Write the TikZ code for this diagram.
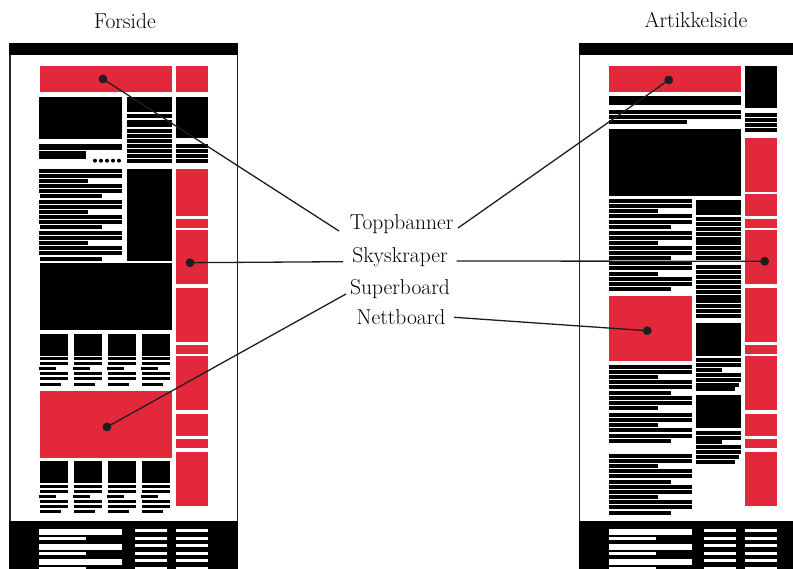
\documentclass[tikz,border=0pt]{standalone}
\usepackage{tikz}
\definecolor{adred}{RGB}{227,40,60}
\definecolor{ink}{RGB}{30,30,30}
\tikzset{
  blk/.style={fill=black},
  red/.style={fill=adred},
  wht/.style={fill=white},
  frame/.style={fill=white,draw=black!85,line width=1.2pt},
  conn/.style={draw=ink,line width=1.3pt},
  dot/.style={circle,fill=ink,inner sep=0pt,minimum size=8.5pt},
  lab/.style={inner sep=0pt,anchor=base,font=\fontsize{21.5}{25}\selectfont},
}
\begin{document}
\begin{tikzpicture}[x=1pt,y=-1pt]
\useasboundingbox (0,0) rectangle (793,569);
\clip (0,0) rectangle (793,569);

% ================= LEFT PAGE (Forside) =================
\node[lab] (tForside) at (125,28.3) {Forside};
\draw[frame] (10,43.5) rectangle (237.5,575);
\fill[blk] (9.4,43.3) rectangle (238.1,55);
% top ads
\fill[red] (40,66) rectangle (172,92);
\fill[red] (176,66) rectangle (208,92);
% top blocks
\fill[blk] (39,97) rectangle (122,139);
\fill[blk] (127,97) rectangle (172,112);
\fill[blk] (127,120) rectangle (172,127.3);
\foreach \y in {114,129,134,139,144,149,154,159} \fill[blk] (127,\y) rectangle (172,\y+3.8);
\fill[blk] (176,97) rectangle (208,138.5);
\foreach \y in {144,149,154,159} \fill[blk] (176,\y) rectangle (208,\y+3.8);
\fill[blk] (39,144) rectangle (122,150);
\fill[blk] (39,151) rectangle (86,158.7);
\foreach \x in {95,101,107,113,119} \fill[blk] (\x,160.7) circle (2);
% text block
\foreach \y in {169,174,184,189,200,205,215,220,231,236,246,251} \fill[blk] (39,\y) rectangle (122,\y+3.7);
\foreach \y in {179,210,241} \fill[blk] (39,\y) rectangle (88,\y+3.7);
\foreach \y in {194,225,257} \fill[blk] (40,\y) rectangle (102,\y+3.7);
\fill[blk] (127,169) rectangle (172,260.7);
% big black
\fill[blk] (40,262.7) rectangle (172,330);
% skyscraper column
\foreach \a/\b in {169/216,219.3/227.7,230/284,288/342,345/353.7,356/410,414/436,439/448,452/506}
  \fill[red] (176,\a) rectangle (208,\b);
% small boxes rows
\foreach \x in {40,74,108,142} {
  \fill[blk] (\x,334) rectangle (\x+28,356);
  \foreach \y in {357,362,372,377} \fill[blk] (\x,\y) rectangle (\x+28,\y+3.3);
  \fill[blk] (\x-1,367) rectangle (\x+16,370.3);
  \fill[blk] (\x,383) rectangle (\x+21,386.3);
  \fill[blk] (\x,461) rectangle (\x+28,483);
  \foreach \y in {485,490,500,505} \fill[blk] (\x,\y) rectangle (\x+28,\y+3.3);
  \fill[blk] (\x-1,495) rectangle (\x+16,498.3);
  \fill[blk] (\x,510) rectangle (\x+21,513.3);
}
% superboard
\fill[red] (40,391) rectangle (172,457.7);
% footer
\fill[blk] (9.4,521) rectangle (238.1,575);
\foreach \y in {529,544,559} \fill[wht] (39,\y) rectangle (122,\y+5.6);
\foreach \y in {537,552,567} \fill[wht] (39,\y) rectangle (86,\y+3);
\foreach \y in {529,537,544,552,559,567} {
  \fill[wht] (135,\y) rectangle (167,\y+3);
  \fill[wht] (176,\y) rectangle (208,\y+3);
}

% ================= RIGHT PAGE (Artikkelside) =================
\node[lab] (tArtikkel) at (696,28) {Artikkelside};
\draw[frame] (579.3,43.5) rectangle (807,575);
\fill[blk] (578.7,43.3) rectangle (810,55);
\fill[red] (609,66) rectangle (741,92);
\fill[blk] (609,95.7) rectangle (741,105);
\fill[blk] (609,110) rectangle (741,114);
\fill[blk] (609,115) rectangle (741,119);
\fill[blk] (609,120) rectangle (687,124);
\fill[blk] (609,129) rectangle (741,195.7);
% right column
\fill[blk] (745,66) rectangle (777,107.7);
\foreach \y in {112.7,117.7,122.7,127.7} \fill[blk] (745,\y) rectangle (777,\y+4);
\foreach \a/\b in {137.7/192,194/216,219.3/227.7,230/284,288/342,345/353.7,356/410,414/436,439/448,452/506}
  \fill[red] (745,\a) rectangle (777,\b);
% article text
\foreach \y in {199,204,214,220,231,236,246,251,261,266,277,282,365,370,380,385,396,401,413,418,428,434,454,459,469,474,485,490,500,505}
  \fill[blk] (609,\y) rectangle (692,\y+3.9);
\foreach \y in {209,241,272,375,406,423,464,495} \fill[blk] (609,\y) rectangle (658,\y+3.9);
\foreach \y in {225,256,287,391,439,480,511} \fill[blk] (609,\y) rectangle (671,\y+3.9);
% nettboard
\fill[red] (609,296) rectangle (692,360.7);
% middle column
\fill[blk] (696,200) rectangle (741,215);
\foreach \y in {217,222,227,232,246,251,256,265,270,275,280,285,290,304,309,314}
  \fill[blk] (696,\y) rectangle (741,\y+4);
\fill[blk] (696,237) rectangle (741,244.7);
\fill[blk] (696,295) rectangle (741,302.7);
\fill[blk] (696,323) rectangle (741,356);
\foreach \y in {358,363,373,378,431,436,445,450} \fill[blk] (696,\y) rectangle (741,\y+4);
\foreach \y in {368,440} \fill[blk] (696,\y) rectangle (722,\y+4);
\foreach \y in {383,455} \fill[blk] (696,\y) rectangle (739,\y+4);
\foreach \y in {387,460} \fill[blk] (696,\y) rectangle (735,\y+4);
\fill[blk] (696,395) rectangle (741,428);
% footer
\fill[blk] (578.7,521) rectangle (810,575);
\foreach \y in {529,544,559} \fill[wht] (609,\y) rectangle (692,\y+5.6);
\foreach \y in {537,552,567} \fill[wht] (609,\y) rectangle (656,\y+3);
\foreach \y in {529,537,544,552,559,567} {
  \fill[wht] (704,\y) rectangle (736,\y+3);
  \fill[wht] (745,\y) rectangle (777,\y+3);
}

% ================= LABELS AND CONNECTORS =================
\node[lab] (lTopp) at (401.7,230) {Toppbanner};
\node[lab] (lSky) at (400,262.7) {Skyskraper};
\node[lab] (lSuper) at (400,294.3) {Superboard};
\node[lab] (lNett) at (401,325) {Nettboard};

\coordinate (cToppL) at (339,231);
\coordinate (cToppR) at (458,228);
\coordinate (cSkyL) at (343,261.7);
\coordinate (cSkyR) at (456.7,261);
\coordinate (cSuperL) at (346,294);
\coordinate (cNettR) at (454,317.3);

\node[dot] (dToppL) at (103,79) {};
\node[dot] (dToppR) at (668.7,80) {};
\node[dot] (dSkyL) at (190,262.7) {};
\node[dot] (dSkyR) at (764.7,261.3) {};
\node[dot] (dSuper) at (107,427) {};
\node[dot] (dNett) at (647.3,330.7) {};

\draw[conn] (dToppL.center) -- (cToppL);
\draw[conn] (cToppR) -- (dToppR.center);
\draw[conn] (dSkyL.center) -- (cSkyL);
\draw[conn] (cSkyR) -- (dSkyR.center);
\draw[conn] (dSuper.center) -- (cSuperL);
\draw[conn] (cNettR) -- (dNett.center);

\node[dot] at (dToppL) {};
\node[dot] at (dToppR) {};
\node[dot] at (dSkyL) {};
\node[dot] at (dSkyR) {};
\node[dot] at (dSuper) {};
\node[dot] at (dNett) {};
\end{tikzpicture}
\end{document}
